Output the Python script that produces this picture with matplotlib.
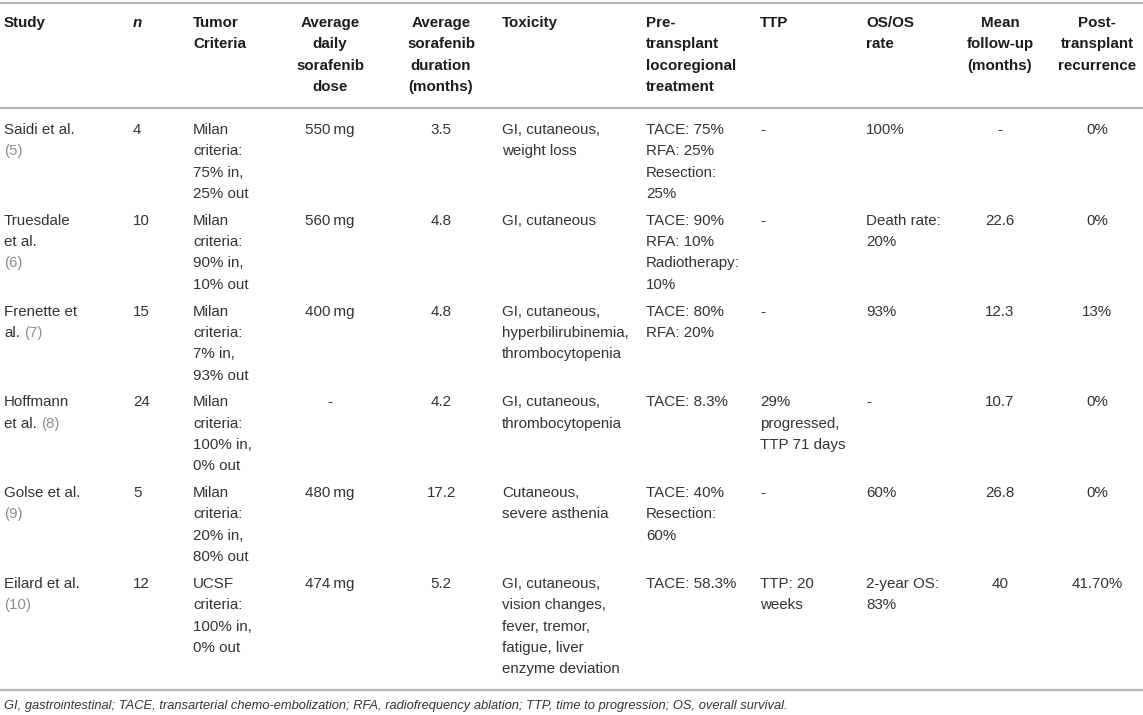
import matplotlib
matplotlib.use("Agg")
import matplotlib.pyplot as plt

# table content, one list per column
headers = ["Study", "n", "Tumor\nCriteria", "Average\ndaily\nsorafenib\ndose",
           "Average\nsorafenib\nduration\n(months)", "Toxicity",
           "Pre-\ntransplant\nlocoregional\ntreatment", "TTP", "OS/OS\nrate",
           "Mean\nfollow-up\n(months)", "Post-\ntransplant\nrecurrence"]

study = ["Saidi et al.\n{ref}", "Truesdale\net al.\n{ref}", "Frenette et\nal. {ref}",
         "Hoffmann\net al. {ref}", "Golse et al.\n{ref}", "Eilard et al.\n{ref}"]
refs = ["(5)", "(6)", "(7)", "(8)", "(9)", "(10)"]
n = ["4", "10", "15", "24", "5", "12"]
criteria = ["Milan\ncriteria:\n75% in,\n25% out", "Milan\ncriteria:\n90% in,\n10% out",
            "Milan\ncriteria:\n7% in,\n93% out", "Milan\ncriteria:\n100% in,\n0% out",
            "Milan\ncriteria:\n20% in,\n80% out", "UCSF\ncriteria:\n100% in,\n0% out"]
dose = ["550\u2009mg", "560\u2009mg", "400\u2009mg", "-", "480\u2009mg", "474\u2009mg"]
duration = ["3.5", "4.8", "4.8", "4.2", "17.2", "5.2"]
toxicity = ["GI, cutaneous,\nweight loss", "GI, cutaneous",
            "GI, cutaneous,\nhyperbilirubinemia,\nthrombocytopenia",
            "GI, cutaneous,\nthrombocytopenia", "Cutaneous,\nsevere asthenia",
            "GI, cutaneous,\nvision changes,\nfever, tremor,\nfatigue, liver\nenzyme deviation"]
pretreat = ["TACE: 75%\nRFA: 25%\nResection:\n25%", "TACE: 90%\nRFA: 10%\nRadiotherapy:\n10%",
            "TACE: 80%\nRFA: 20%", "TACE: 8.3%", "TACE: 40%\nResection:\n60%", "TACE: 58.3%"]
ttp = ["-", "-", "-", "29%\nprogressed,\nTTP 71 days", "-", "TTP: 20\nweeks"]
os_rate = ["100%", "Death rate:\n20%", "93%", "-", "60%", "2-year OS:\n83%"]
followup = ["-", "22.6", "12.3", "10.7", "26.8", "40"]
recurrence = ["0%", "0%", "13%", "0%", "0%", "41.70%"]

footnote = ("GI, gastrointestinal; TACE, transarterial chemo-embolization; RFA, radiofrequency "
            "ablation; TTP, time to progression; OS, overall survival.")

columns = [study, n, criteria, dose, duration, toxicity, pretreat, ttp, os_rate, followup, recurrence]
col_x = [4, 133, 193, 330, 441, 502, 646, 760, 866, 1000, 1097]
col_ha = ["left", "left", "left", "center", "center", "left", "left", "left", "left", "center", "center"]

plt.rcParams["font.family"] = ["Liberation Sans", "DejaVu Sans"]
FS = 10.9
LH = 21.3
TXT = "#333333"
HEAD = "#1c1c1c"
REF = "#8e8e8e"
RULE = "#b5b5b5"

fig = plt.figure(figsize=(11.43, 7.15), dpi=100)
ax = fig.add_axes([0, 0, 1, 1])
ax.set_xlim(0, 1143)
ax.set_ylim(715, 0)
ax.axis("off")


def rule(y):
    ax.axhline(y, color=RULE, lw=1.6)


def cell(x, y, s, ha, **kw):
    for i, line in enumerate(s.split("\n")):
        ax.text(x, y + i * LH, line, ha=ha, va="center", fontsize=FS, **kw)


# header
rule(3)
for j, h in enumerate(headers):
    style = "italic" if h == "n" else "normal"
    cell(col_x[j], 23, h, col_ha[j], color=HEAD, fontweight="bold", fontstyle=style)
rule(108)

# body
y = 130
for i in range(len(study)):
    nlines = max(c[i].count("\n") + 1 for c in columns)
    for j, c in enumerate(columns):
        if j == 0:
            for k, line in enumerate(study[i].split("\n")):
                yy = y + k * LH
                if "{ref}" in line:
                    pre = line.replace("{ref}", "").rstrip()
                    if pre:
                        t = ax.text(col_x[0], yy, pre, ha="left", va="center",
                                    fontsize=FS, color=TXT)
                        ax.annotate(refs[i], xy=(1, 0.5), xycoords=t, xytext=(4.2, 0),
                                    textcoords="offset pixels", ha="left", va="center",
                                    fontsize=FS, color=REF)
                    else:
                        ax.text(col_x[0], yy, refs[i], ha="left", va="center",
                                fontsize=FS, color=REF)
                else:
                    ax.text(col_x[0], yy, line, ha="left", va="center", fontsize=FS, color=TXT)
        else:
            cell(col_x[j], y, c[i], col_ha[j], color=TXT)
    last = y + (nlines - 1) * LH
    y = last + 26.9

rule(last + 21)
ax.text(4, 706, footnote, ha="left", va="center", fontsize=FS * 0.855,
        fontstyle="italic", color=TXT)

fig.savefig("out.png", dpi=100)
